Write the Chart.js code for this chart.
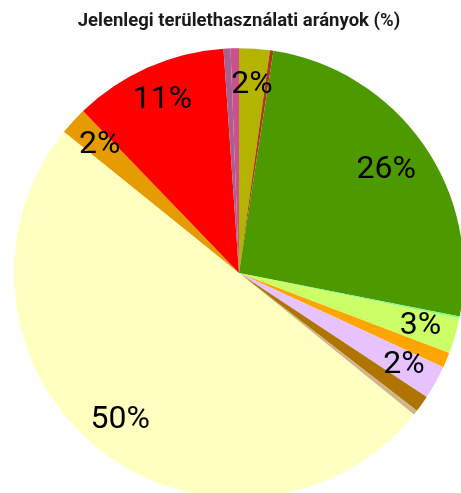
<!DOCTYPE html>
<html>
<head>
<meta charset="utf-8">
<script src="https://cdn.jsdelivr.net/npm/chart.js@4/dist/chart.umd.min.js"></script>
<style>
  html, body { margin: 0; padding: 0; overflow: hidden; background: #fff; }
  #wrap { position: absolute; left: 0; top: 0; width: 478px; height: 498px; }
</style>
</head>
<body>
<div id="wrap"><canvas id="landUsePie" width="478" height="498"></canvas></div>
<script>
// kategóriák (óramutató járásával, felülről indulva)
const categories = [
    'Szőlő', 'Bánya', 'Erdő', 'Vízfelület', 'Gyep', 'Kert',
    'Gyümölcsös', 'Zártkert', 'Egyéb', 'Szántó', 'Közlekedés',
    'Beépített terület', 'Ipari terület', 'Különleges terület'
];

// arányok (%)
const shares = [2.2, 0.25, 25.65, 0.15, 2.55, 1.1, 2.4, 1.2, 0.35, 50.0, 2.0, 11.1, 0.5, 0.6];

// szeletek színei
const sliceColors = [
    '#b4b400', '#b3361a', '#4d9900', '#80ff80', '#ccff66', '#ffa500', '#e6c3ff',
    '#b07400', '#d2b48c', '#ffffc0', '#e69b00', '#ff0000', '#a8608e', '#cc4f8e'
];

// százalék feliratok rajzolása a szeletekre
const sliceLabels = {
    id: 'sliceLabels',
    afterDatasetsDraw(chart) {
        const ctx = chart.ctx;
        const meta = chart.getDatasetMeta(0);
        ctx.save();
        ctx.font = '32px Roboto';
        ctx.fillStyle = '#000';
        ctx.textAlign = 'center';
        ctx.textBaseline = 'middle';
        meta.data.forEach((arc, i) => {
            const v = shares[i];
            if (v < 1.5) return;
            const p = arc.getProps(['x', 'y', 'startAngle', 'endAngle', 'outerRadius'], true);
            const mid = (p.startAngle + p.endAngle) / 2;
            const r = p.outerRadius * (v > 20 && v < 40 ? 0.8 : 0.84);
            ctx.fillText(Math.round(v) + '%', p.x + Math.cos(mid) * r, p.y + Math.sin(mid) * r);
        });
        ctx.restore();
    }
};

new Chart(document.getElementById('landUsePie'), {
    type: 'pie',
    data: {
        labels: categories,
        datasets: [{
            data: shares,
            backgroundColor: sliceColors,
            borderWidth: 0
        }]
    },
    options: {
        responsive: false,
        animation: false,
        devicePixelRatio: 1,
        layout: { padding: 0 },
        plugins: {
            legend: { display: false },
            tooltip: { enabled: false },
            title: {
                display: true,
                text: 'Jelenlegi területhasználati arányok (%)',
                color: '#1a1a1a',
                font: { family: 'Roboto', size: 18.5, weight: 'bold' },
                padding: { top: 10, bottom: 16 }
            }
        }
    },
    plugins: [sliceLabels]
});
</script>
</body>
</html>
